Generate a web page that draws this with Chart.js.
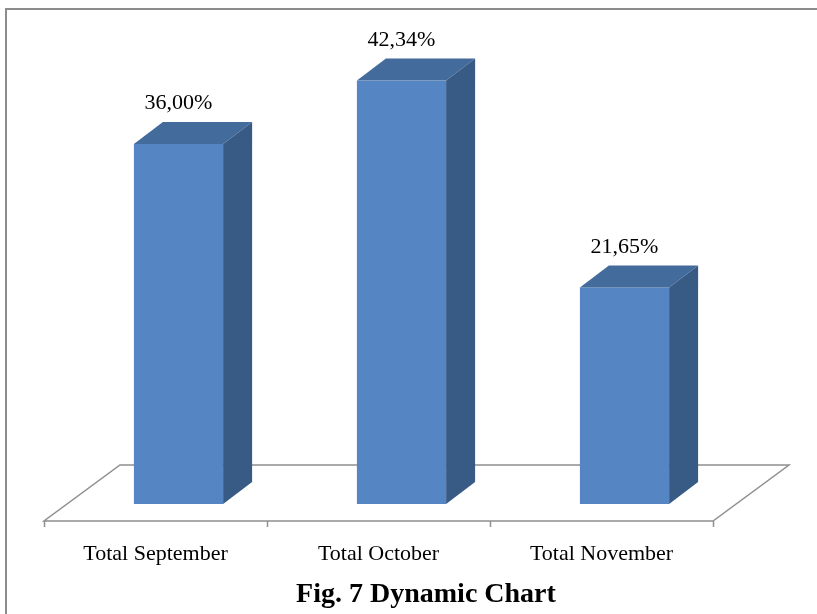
<!DOCTYPE html>
<html>
<head>
<meta charset="utf-8">
<script src="https://cdn.jsdelivr.net/npm/chart.js@4.4.1/dist/chart.umd.min.js"></script>
<style>
  html, body { margin: 0; padding: 0; background: #fff; }
  canvas { display: block; }
</style>
</head>
<body>
<canvas id="dynamicChart" width="817" height="614"></canvas>
<script>
// data
const categories = ['Total September', 'Total October', 'Total November'];
const shares = [36.00, 42.34, 21.65];
const caption = 'Fig. 7 Dynamic Chart';

const SERIF = '"Liberation Serif", "Times New Roman", serif';

const FACE = {
  front: '#5585c2',
  top: '#436b9c',
  side: '#385b86',
};

// 3d look, in pixels
const BAR_DEPTH = { dx: 29, dy: 22 };
const FLOOR_DEPTH = { dx: 76, dy: 56 };
const BAR_SHIFT = 23;   // bars sit inside the floor, right of the tick centre
const FLOOR_DROP = 17;  // front edge of the floor below the bar base
const LABEL_LIFT = 35;

function fmt(v) {
  return v.toFixed(2).replace('.', ',') + '%';
}

const bar3d = {
  id: 'bar3d',
  beforeDraw(chart) {
    const { ctx } = chart;
    const x = chart.scales.x;
    const y = chart.scales.y;
    ctx.save();

    // outer frame
    ctx.strokeStyle = '#8c8c8c';
    ctx.lineWidth = 2;
    ctx.strokeRect(6, 9, 900, 700);

    // floor
    const front = y.getPixelForValue(0) + FLOOR_DROP;
    ctx.strokeStyle = '#8f8f8f';
    ctx.lineWidth = 1.5;
    ctx.beginPath();
    ctx.moveTo(x.left, front);
    ctx.lineTo(x.right, front);
    ctx.lineTo(x.right + FLOOR_DEPTH.dx, front - FLOOR_DEPTH.dy);
    ctx.lineTo(x.left + FLOOR_DEPTH.dx, front - FLOOR_DEPTH.dy);
    ctx.closePath();
    ctx.stroke();

    // tick marks at category boundaries
    const step = (x.right - x.left) / categories.length;
    ctx.beginPath();
    for (let i = 0; i <= categories.length; i++) {
      const px = Math.round(x.left + i * step) + 0.5;
      ctx.moveTo(px, front);
      ctx.lineTo(px, front + 6);
    }
    ctx.stroke();
    ctx.restore();
  },
  afterDatasetsDraw(chart) {
    const { ctx } = chart;
    const meta = chart.getDatasetMeta(0);
    ctx.save();
    meta.data.forEach((bar, i) => {
      const p = bar.getProps(['x', 'y', 'base', 'width'], true);
      const left = p.x - p.width / 2 + BAR_SHIFT;
      const right = p.x + p.width / 2 + BAR_SHIFT;
      const top = p.y;
      const bottom = p.base;
      const dx = BAR_DEPTH.dx, dy = BAR_DEPTH.dy;

      ctx.fillStyle = FACE.front;
      ctx.fillRect(left, top, right - left, bottom - top);

      ctx.fillStyle = FACE.top;
      ctx.beginPath();
      ctx.moveTo(left, top);
      ctx.lineTo(left + dx, top - dy);
      ctx.lineTo(right + dx, top - dy);
      ctx.lineTo(right, top);
      ctx.closePath();
      ctx.fill();

      ctx.fillStyle = FACE.side;
      ctx.beginPath();
      ctx.moveTo(right, top);
      ctx.lineTo(right + dx, top - dy);
      ctx.lineTo(right + dx, bottom - dy);
      ctx.lineTo(right, bottom);
      ctx.closePath();
      ctx.fill();

      ctx.fillStyle = '#000';
      ctx.font = '22px ' + SERIF;
      ctx.textAlign = 'center';
      ctx.textBaseline = 'alphabetic';
      ctx.fillText(fmt(shares[i]), (left + right) / 2, top - LABEL_LIFT);
    });
    ctx.restore();
  },
  afterDraw(chart) {
    // figure caption sits under the plot, a bit right of the axis centre
    const { ctx } = chart;
    ctx.save();
    ctx.fillStyle = '#000';
    ctx.font = 'bold 28px ' + SERIF;
    ctx.textAlign = 'center';
    ctx.textBaseline = 'alphabetic';
    ctx.fillText(caption, 426, 602);
    ctx.restore();
  }
};

new Chart(document.getElementById('dynamicChart'), {
  type: 'bar',
  data: {
    labels: categories,
    datasets: [{
      data: shares,
      backgroundColor: 'rgba(0,0,0,0)',
      borderWidth: 0,
      categoryPercentage: 1,
      barPercentage: 0.4,
    }]
  },
  options: {
    responsive: false,
    animation: false,
    layout: {
      padding: { left: 44, right: 104, top: 9, bottom: 48 }
    },
    plugins: {
      legend: { display: false },
      tooltip: { enabled: false },
      title: { display: false }
    },
    scales: {
      x: {
        grid: { display: false, drawTicks: false },
        border: { display: false },
        ticks: {
          color: '#000',
          font: { family: SERIF, size: 22 },
          padding: 37,
          maxRotation: 0
        },
        afterFit(scale) {
          scale.height = 62;
        }
      },
      y: {
        display: false,
        min: 0,
        max: 49.5
      }
    }
  },
  plugins: [bar3d]
});
</script>
</body>
</html>
